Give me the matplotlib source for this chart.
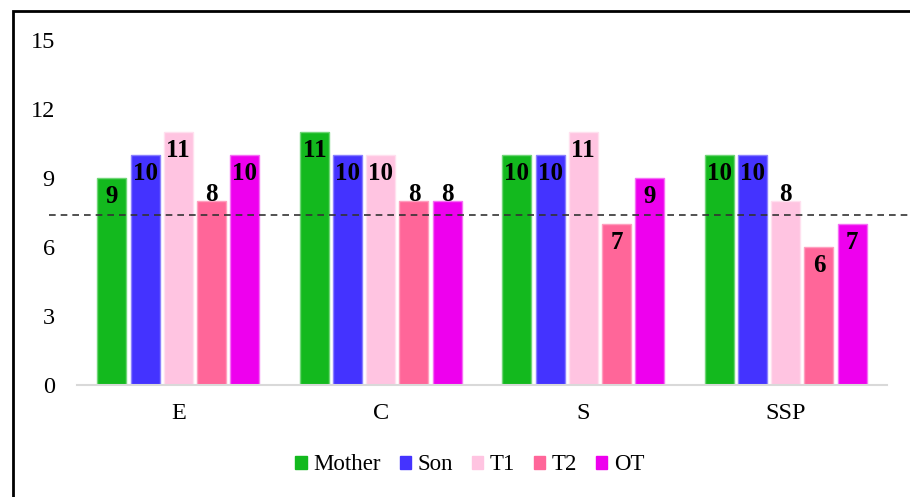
import matplotlib.pyplot as plt
import matplotlib.patches as mpatches
import numpy as np

# Data
categories = ['E', 'C', 'S', 'SSP']
series = ['Mother', 'Son', 'T1', 'T2', 'OT']
mother = [9, 11, 10, 10]
son = [10, 10, 10, 10]
t1 = [11, 10, 11, 8]
t2 = [8, 8, 7, 6]
ot = [10, 8, 9, 7]
reference_level = 7.4
yticks = [0, 3, 6, 9, 12, 15]

values = [mother, son, t1, t2, ot]
colors = ['#13b91e', '#4433ff', '#ffc4e1', '#ff6699', '#ee00ee']
edges = ['#6fd676', '#8b80ff', '#ffe0ef', '#ff9fbf', '#f56ef5']

plt.rcParams['font.family'] = ['Liberation Serif', 'DejaVu Serif']

fig = plt.figure(figsize=(9.1, 4.97), dpi=100)
ax = fig.add_axes([77 / 910, 1 - 385 / 497, 810 / 910, 345 / 497])

x = np.arange(len(categories))
step = 0.164
width = 0.143
for i, (vals, col, ec) in enumerate(zip(values, colors, edges)):
    pos = x + (i - 2) * step
    ax.bar(pos, vals, width=width, color=col, edgecolor=ec, linewidth=1,
           label=series[i], zorder=2)
    for p, v in zip(pos, vals):
        ypos = v - 0.8
        # keep labels clear of the dashed line
        if abs(ypos - reference_level) < 0.5:
            ypos = v + 0.3
        ax.text(p, ypos, str(v), ha='center', va='center',
                fontsize=18, fontweight='bold', color='black', zorder=4)

# Dashed reference line (extends beyond plot area)
ax.plot([-0.035, 1.03], [reference_level, reference_level], ls=(0, (4, 3)),
        color='#333333', lw=1.2, transform=ax.get_yaxis_transform(),
        clip_on=False, zorder=3)

ax.set_xlim(-0.5, len(categories) - 0.5)
ax.set_ylim(0, 15)
ax.set_yticks(yticks)
ax.set_xticks(x)
ax.set_xticklabels(categories)
ax.tick_params(axis='both', length=0, labelsize=17.5)
ax.tick_params(axis='y', pad=16)
ax.tick_params(axis='x', pad=13)
for s in ['top', 'right', 'left']:
    ax.spines[s].set_visible(False)
ax.spines['bottom'].set_color('#d9d9d9')
ax.spines['bottom'].set_linewidth(1.5)

# Legend
handles = [mpatches.Patch(color=c, label=s) for c, s in zip(colors, series)]
fig.legend(handles=handles, loc='center', bbox_to_anchor=(470 / 910, 1 - 465 / 497),
           ncol=5, frameon=False, fontsize=16.5, handlelength=0.5, handleheight=0.5,
           handletextpad=0.3, columnspacing=0.8)

# Figure border (left and top visible)
fig.patches.append(mpatches.Rectangle((13 / 910, -0.1), 1.2, 1 - 11 / 497 + 0.1,
                                      transform=fig.transFigure, fill=False,
                                      edgecolor='black', lw=2))

fig.savefig('out.png', dpi=100)
